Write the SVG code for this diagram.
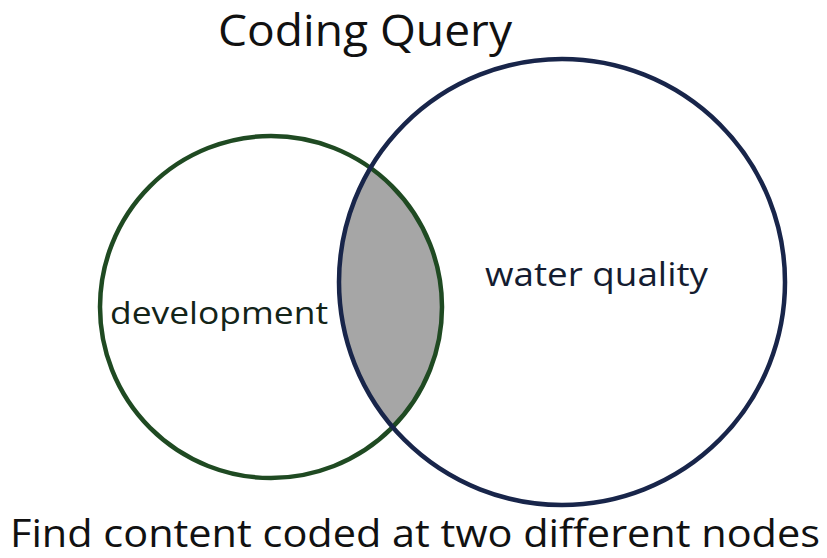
<svg xmlns="http://www.w3.org/2000/svg" width="827" height="558" viewBox="0 0 827 558">
<style>
.t{font-family:"Open Sans","Noto Sans","DejaVu Sans",sans-serif;fill:#111;}
.c{fill:none;stroke-width:4.5;}
</style>
<defs>
<clipPath id="clipA"><circle cx="271" cy="307" r="171"/></clipPath>
</defs>
<rect width="827" height="558" fill="#fff"/>
<text class="t" x="218" y="46" font-size="44" textLength="294" lengthAdjust="spacingAndGlyphs">Coding Query</text>
<g id="intersection">
<circle cx="562" cy="282" r="223" fill="#a6a6a6" clip-path="url(#clipA)"/>
</g>
<g id="development">
<circle class="c" cx="271" cy="307" r="171" stroke="#1f4a22"/>
<text class="t" x="110" y="324" font-size="31" textLength="218" lengthAdjust="spacingAndGlyphs" style="fill:#132418">development</text>
</g>
<g id="water-quality">
<circle class="c" cx="562" cy="282" r="223" stroke="#18254a"/>
<text class="t" x="485" y="286" font-size="32" textLength="223" lengthAdjust="spacingAndGlyphs" style="fill:#141c30">water quality</text>
</g>
<g id="connectors"/>
<text class="t" x="10" y="547" font-size="38" textLength="810" lengthAdjust="spacingAndGlyphs">Find content coded at two different nodes</text>
</svg>
